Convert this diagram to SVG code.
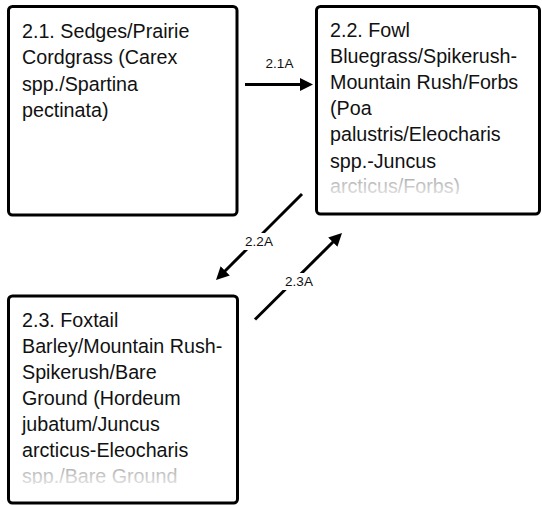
<svg xmlns="http://www.w3.org/2000/svg" width="542" height="506" viewBox="0 0 542 506">
<style>
.box{fill:#fff;stroke:#000;stroke-width:3}
.t{font-family:"Liberation Sans",Arial,sans-serif;font-size:19.7px;fill:#111}
.fade{fill:url(#fadeGrad)}
.lbl{font-family:"Liberation Sans",Arial,sans-serif;font-size:13.5px;fill:#111;text-anchor:middle}
.conn{stroke:#000;stroke-width:3;fill:none;marker-end:url(#arrow)}
</style>
<defs>
<marker id="arrow" markerUnits="userSpaceOnUse" markerWidth="13" markerHeight="13" refX="1" refY="6.5" orient="auto">
<path d="M0,0 L13,6.5 L0,13 z" fill="#000"/>
</marker>
<linearGradient id="fadeGrad" x1="0" y1="0" x2="0" y2="1">
<stop offset="0" stop-color="#a8a8a8"/>
<stop offset="1" stop-color="#e8e8e8"/>
</linearGradient>
<clipPath id="clip2"><rect x="316" y="6" width="224" height="188"/></clipPath>
<clipPath id="clip3"><rect x="8" y="296" width="230" height="188"/></clipPath>
</defs>
<g id="node-2-1">
<rect class="box" x="8.5" y="6.5" width="228.5" height="208.5" rx="4"/>
<text class="t" x="22" y="38">2.1. Sedges/Prairie</text>
<text class="t" x="22" y="64.3">Cordgrass (Carex</text>
<text class="t" x="22" y="90.6">spp./Spartina</text>
<text class="t" x="22" y="116.9">pectinata)</text>
</g>
<g id="node-2-2">
<rect class="box" x="316.5" y="6.5" width="223" height="207.5" rx="4"/>
<g clip-path="url(#clip2)">
<text class="t" x="330" y="37">2.2. Fowl</text>
<text class="t" x="330" y="63.1">Bluegrass/Spikerush-</text>
<text class="t" x="330" y="89.2">Mountain Rush/Forbs</text>
<text class="t" x="330" y="115.3">(Poa</text>
<text class="t" x="330" y="141.4">palustris/Eleocharis</text>
<text class="t" x="330" y="167.5">spp.-Juncus</text>
<text class="t fade" x="330" y="193.3">arcticus/Forbs)</text>
</g>
</g>
<g id="node-2-3">
<rect class="box" x="8.5" y="296" width="229" height="207" rx="4"/>
<g clip-path="url(#clip3)">
<text class="t" x="22" y="327">2.3. Foxtail</text>
<text class="t" x="22" y="353">Barley/Mountain Rush-</text>
<text class="t" x="22" y="379">Spikerush/Bare</text>
<text class="t" x="22" y="405">Ground (Hordeum</text>
<text class="t" x="22" y="431">jubatum/Juncus</text>
<text class="t" x="22" y="457">arcticus-Eleocharis</text>
<text class="t fade" x="22" y="482.5">spp./Bare Ground</text>
</g>
</g>
<g id="connectors">
<g id="c-2-1A">
<path class="conn" d="M245,84.5 L301,84.5"/>
<text class="lbl" x="279.5" y="67.5">2.1A</text>
</g>
<g id="c-2-2A">
<path class="conn" d="M302,194 L224.5,271.5"/>
<rect x="242" y="233" width="34" height="17" fill="#fff"/>
<text class="lbl" x="259" y="246">2.2A</text>
</g>
<g id="c-2-3A">
<path class="conn" d="M255,319.5 L333.5,241.5"/>
<rect x="282" y="273" width="34" height="17" fill="#fff"/>
<text class="lbl" x="299" y="286">2.3A</text>
</g>
</g>
</svg>
